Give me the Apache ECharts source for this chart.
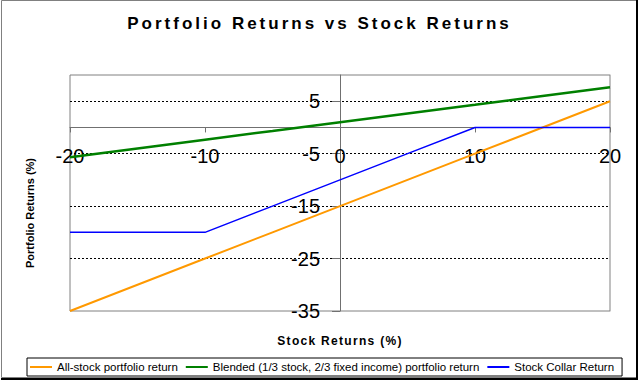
<!DOCTYPE html>
<html>
<head>
<meta charset="utf-8">
<script src="https://cdn.jsdelivr.net/npm/echarts@6/dist/echarts.min.js"></script>
<style>
  html, body { margin: 0; padding: 0; background: #fff; }
  #chart { width: 639px; height: 380px; }
  #chart text[style*="17px"] { letter-spacing: 3px; }
  #chart text[style*="12px"] { letter-spacing: 1.3px; }
</style>
</head>
<body>
<div id="chart"></div>
<script>
// ---- data ----
const stockReturns = [-20, -15, -10, -5, 0, 5, 10, 15, 20];
const allStockReturn = [-35, -30, -25, -20, -15, -10, -5, 0, 5];
const blendedReturn = [-5.67, -4, -2.33, -0.67, 1, 2.67, 4.33, 6, 7.67];
const collarReturn = [-20, -20, -20, -15, -10, -5, 0, 0, 0];
const seriesNames = [
  'All-stock portfolio return',
  'Blended (1/3 stock, 2/3 fixed income) portfolio return',
  'Stock Collar Return'
];
const xTicks = { min: -20, max: 20, interval: 10 };
const yTicks = { min: -35, max: 10, interval: 10 };

const pairs = (ys) => stockReturns.map((x, i) => [x, ys[i]]);
const FONT = 'Arial, "Liberation Sans", sans-serif';
const seriesColors = ['#FF9900', '#008000', '#0000FF'];

const chart = echarts.init(document.getElementById('chart'), null, { renderer: 'svg' });
chart.setOption({
  animation: false,
  backgroundColor: '#fff',
  title: {
    text: 'Portfolio Returns vs Stock Returns',
    left: 'center',
    top: 10,
    textStyle: { fontFamily: FONT, fontSize: 17, fontWeight: 'bold', color: '#000' }
  },
  grid: {
    left: 70, right: 29, top: 75, bottom: 69,
    show: true, borderColor: '#808080', borderWidth: 1, backgroundColor: 'transparent'
  },
  legend: {
    left: 27, top: 358,
    padding: [3, 8, 3, 3],
    borderColor: '#000', borderWidth: 1,
    icon: 'rect',
    itemWidth: 22, itemHeight: 2, itemGap: 8,
    textStyle: { fontFamily: FONT, fontSize: 11.5, color: '#000', lineHeight: 11 },
    data: seriesNames
  },
  xAxis: [{
    type: 'value', position: 'bottom',
    min: xTicks.min, max: xTicks.max, interval: xTicks.interval,
    axisLine: { show: true, onZero: false, lineStyle: { color: '#707070', width: 1 } },
    axisTick: { show: true, length: 5, lineStyle: { color: '#707070' } },
    axisLabel: { margin: 19, fontFamily: FONT, fontSize: 20, color: '#000', hideOverlap: false },
    splitLine: { show: false }
  }],
  yAxis: [{
    type: 'value', position: 'left',
    min: yTicks.min, max: yTicks.max, interval: yTicks.interval,
    axisLine: { show: true, onZero: false, lineStyle: { color: '#707070', width: 1 } },
    axisTick: { show: true, length: 8, lineStyle: { color: '#707070' } },
    axisLabel: { margin: 20, fontFamily: FONT, fontSize: 20, color: '#000', showMaxLabel: false, hideOverlap: false },
    splitLine: {
      show: true, showMinLine: false, showMaxLine: false,
      lineStyle: { color: '#000', width: 1, type: [2, 2] }
    }
  }, {
    type: 'value', position: 'right',
    min: yTicks.min, max: yTicks.max, interval: yTicks.interval,
    axisLine: { show: true, onZero: false, lineStyle: { color: '#c0c0c0' } },
    axisTick: { show: false }, axisLabel: { show: false }, splitLine: { show: false }
  }],
  series: [
    { name: seriesNames[0], data: pairs(allStockReturn), width: 2, z: 3 },
    { name: seriesNames[1], data: pairs(blendedReturn), width: 2.5, z: 3 },
    { name: seriesNames[2], data: pairs(collarReturn), width: 1.5, z: 4 }
  ].map((s, i) => ({
    name: s.name, type: 'line', symbol: 'none', data: s.data, z: s.z,
    lineStyle: { color: seriesColors[i], width: s.width },
    itemStyle: { color: seriesColors[i] }
  })),
  graphic: [{
    type: 'text', x: 30, y: 213, rotation: Math.PI / 2,
    style: { text: 'Portfolio Returns (%)', font: 'bold 11px ' + FONT, fill: '#000',
             textAlign: 'center', textVerticalAlign: 'middle' }
  }, {
    type: 'text', x: 340, y: 341,
    style: { text: 'Stock Returns (%)', font: 'bold 12px ' + FONT, fill: '#000',
             textAlign: 'center', textVerticalAlign: 'middle' }
  }, {
    type: 'rect', silent: true,
    shape: { x: 1.5, y: 0.5, width: 635, height: 377 },
    style: { fill: 'none', stroke: '#808080', lineWidth: 1 }
  }, {
    type: 'polyline', silent: true,
    shape: { points: [[637, 0], [637, 379], [1, 379]] },
    style: { fill: 'none', stroke: '#000', lineWidth: 2 }
  }]
});

// Move the primary axes so they cross at zero (labels follow the lines).
const zeroY = chart.convertToPixel({ yAxisIndex: 0 }, 0);
const bottomY = chart.convertToPixel({ yAxisIndex: 0 }, yTicks.min);
const zeroX = chart.convertToPixel({ xAxisIndex: 0 }, 0);
const leftX = chart.convertToPixel({ xAxisIndex: 0 }, xTicks.min);
chart.setOption({
  xAxis: [{ offset: zeroY - bottomY }],
  yAxis: [{ offset: leftX - zeroX }, {}]
});
</script>
</body>
</html>
